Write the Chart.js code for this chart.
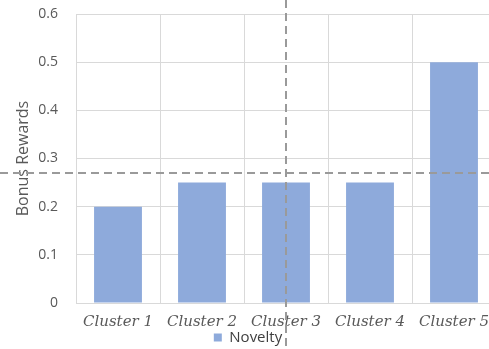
<!DOCTYPE html>
<html>
<head>
<meta charset="utf-8">
<script src="https://cdn.jsdelivr.net/npm/chart.js@4"></script>
<style>
  html, body { margin: 0; padding: 0; overflow: hidden; background: #fff; }
  #wrap { width: 500px; height: 349px; }
</style>
</head>
<body>
<div id="wrap"><canvas id="chart" width="500" height="349"></canvas></div>
<script>
// Chart data
const clusters = ['Cluster 1', 'Cluster 2', 'Cluster 3', 'Cluster 4', 'Cluster 5'];
const noveltyValues = [0.2, 0.25, 0.25, 0.25, 0.5];
const yTicks = [0, 0.1, 0.2, 0.3, 0.4, 0.5, 0.6];

// Crosshair reference lines (in data units)
const refY = 0.27;
const refX = 2; // index of Cluster 3

const gridColor = '#d9d9d9';
const textColor = '#595959';

// Draws the dashed crosshair across the whole canvas
const crosshair = {
    id: 'crosshair',
    afterDatasetsDraw(chart) {
        const ctx = chart.ctx;
        const x = chart.scales.x.getPixelForValue(refX);
        const y = chart.scales.y.getPixelForValue(refY);
        ctx.save();
        ctx.strokeStyle = '#9a9a9a';
        ctx.lineWidth = 2;
        ctx.setLineDash([8, 5]);
        ctx.beginPath();
        ctx.moveTo(0, y);
        ctx.lineTo(chart.width, y);
        ctx.moveTo(x, 0);
        ctx.lineTo(x, chart.height);
        ctx.stroke();
        ctx.restore();
    }
};

new Chart(document.getElementById('chart'), {
    type: 'bar',
    data: {
        labels: clusters,
        datasets: [{
            label: 'Novelty',
            data: noveltyValues,
            backgroundColor: '#8eaadb',
            borderWidth: 0,
            barPercentage: 0.57,
            categoryPercentage: 1
        }]
    },
    options: {
        responsive: false,
        animation: false,
        layout: { padding: { top: 14, right: 4, left: 0, bottom: -6 } },
        plugins: {
            tooltip: { enabled: false },
            legend: {
                position: 'bottom',
                labels: {
                    boxWidth: 8,
                    boxHeight: 8,
                    padding: 0,
                    color: '#404040',
                    font: { family: 'Open Sans', size: 15 }
                }
            }
        },
        scales: {
            x: {
                afterFit(scale) { scale.height = 27; },
                grid: { color: gridColor, offset: true, drawTicks: false },
                border: { color: gridColor },
                ticks: {
                    color: textColor,
                    padding: 10,
                    maxRotation: 0,
                    font: { family: 'DejaVu Serif', style: 'italic', size: 15 }
                }
            },
            y: {
                min: 0,
                max: 0.6,
                afterFit(scale) {
                    scale.width = 76;
                    scale.paddingTop = 0;
                },
                afterBuildTicks(scale) { scale.ticks = yTicks.map(v => ({ value: v })); },
                grid: { color: gridColor, drawTicks: false },
                border: { color: gridColor },
                title: {
                    display: true,
                    text: 'Bonus Rewards',
                    color: textColor,
                    padding: { top: 14, bottom: 0 },
                    font: { family: 'Open Sans', size: 16 }
                },
                ticks: {
                    color: textColor,
                    padding: 18,
                    font: { family: 'Open Sans', size: 14 },
                    callback: v => String(v)
                }
            }
        }
    },
    plugins: [crosshair]
});
</script>
</body>
</html>
